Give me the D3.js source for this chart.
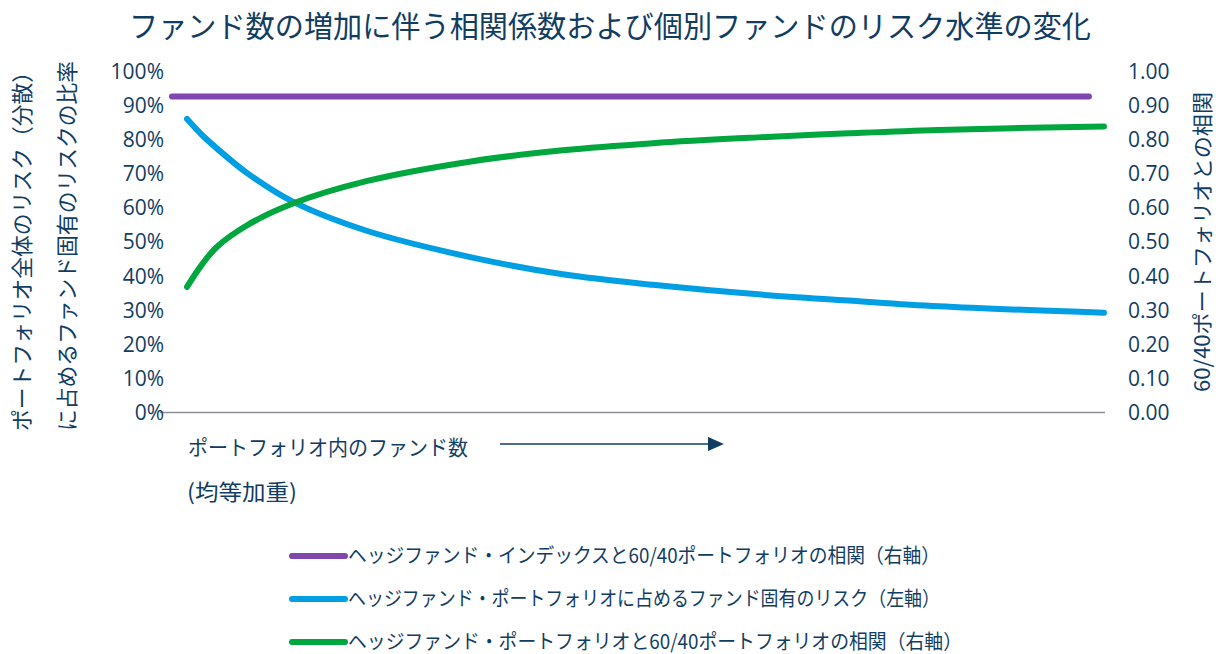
<!DOCTYPE html>
<html>
<head>
<meta charset="utf-8">
<script src="https://cdn.jsdelivr.net/npm/d3@7"></script>
<style>
  body { margin: 0; background: #fff; }
  text { fill: #123d63; }
  .jp { font-family: "Noto Sans CJK JP", sans-serif; }
  .num { font-family: "Open Sans", "Noto Sans CJK JP", sans-serif; }
</style>
</head>
<body>
<script>
// fund counts (x positions of the read points)
var funds = [1, 2, 3, 5, 8, 13, 20, 26, 32, 39, 45, 51, 62];
// fund-specific risk share, left axis
var idioRisk = [0.862, 0.815, 0.775, 0.703, 0.62, 0.533, 0.455, 0.406, 0.375, 0.347, 0.329, 0.312, 0.293];
// hedge fund portfolio vs 60/40 correlation, right axis
var pfCorr = [0.369, 0.435, 0.487, 0.55, 0.613, 0.68, 0.738, 0.77, 0.791, 0.808, 0.82, 0.83, 0.84];
// hedge fund index vs 60/40 correlation, right axis (flat)
var indexFunds = [0, 61];
var indexCorr = [0.928, 0.928];

var leftTicks = [0, 0.1, 0.2, 0.3, 0.4, 0.5, 0.6, 0.7, 0.8, 0.9, 1];
var rightTicks = [0, 0.1, 0.2, 0.3, 0.4, 0.5, 0.6, 0.7, 0.8, 0.9, 1];

var title = "ファンド数の増加に伴う相関係数および個別ファンドのリスク水準の変化";
var leftTitle = ["ポートフォリオ全体のリスク（分散）", "に占めるファンド固有のリスクの比率"];
var rightTitle = "60/40ポートフォリオとの相関";
var xTitle = ["ポートフォリオ内のファンド数", "(均等加重)"];
var legendNames = [
    "ヘッジファンド・インデックスと60/40ポートフォリオの相関（右軸）",
    "ヘッジファンド・ポートフォリオに占めるファンド固有のリスク（左軸）",
    "ヘッジファンド・ポートフォリオと60/40ポートフォリオの相関（右軸）"
];
var colors = ["#7f47ad", "#009fe3", "#00a63e"];

var W = 1220, H = 654;
var svg = d3.select("body").append("svg")
    .attr("width", W)
    .attr("height", H);

var x = d3.scaleLinear().domain([0, 62]).range([172, 1104]);
var yL = d3.scaleLinear().domain([0, 1]).range([412.5, 72]);
var yR = d3.scaleLinear().domain([0, 1]).range([412.5, 72]);

// title
svg.append("text")
    .attr("class", "jp")
    .attr("x", 129).attr("y", 37)
    .attr("font-size", 30)
    .attr("textLength", 962)
    .attr("lengthAdjust", "spacingAndGlyphs")
    .text(title);

// baseline
svg.append("line")
    .attr("x1", 160).attr("x2", 1105)
    .attr("y1", yL(0)).attr("y2", yL(0))
    .attr("stroke", "#8c8f94")
    .attr("stroke-width", 1.5);

// axes
var gl = svg.append("g")
    .attr("class", "num")
    .attr("transform", "translate(172,0)")
    .call(d3.axisLeft(yL).tickValues(leftTicks).tickFormat(d3.format(".0%")).tickSize(0).tickPadding(8));
var gr = svg.append("g")
    .attr("class", "num")
    .attr("transform", "translate(1105,0)")
    .call(d3.axisRight(yR).tickValues(rightTicks).tickFormat(d3.format(".2f")).tickSize(0).tickPadding(23));
[gl, gr].forEach(function (g) {
    g.select(".domain").remove();
    g.selectAll("text")
        .attr("font-size", 21)
        .attr("font-family", "'Open Sans', sans-serif")
        .style("fill", "#123d63");
});

// axis titles
leftTitle.forEach(function (t, i) {
    svg.append("text")
        .attr("class", "jp")
        .attr("transform", "translate(" + (22 + i * 45) + ",246) rotate(-90)")
        .attr("text-anchor", "middle")
        .attr("dy", "0.36em")
        .attr("font-size", 22)
        .attr("textLength", 370)
        .attr("lengthAdjust", "spacingAndGlyphs")
        .text(t);
});
svg.append("text")
    .attr("class", "jp")
    .attr("transform", "translate(1202,242) rotate(-90)")
    .attr("text-anchor", "middle")
    .attr("dy", "0.36em")
    .attr("font-size", 21)
    .attr("textLength", 300)
    .attr("lengthAdjust", "spacingAndGlyphs")
    .text(rightTitle);

// lines
var lineL = d3.line()
    .x(function (d) { return x(d[0]); })
    .y(function (d) { return yL(d[1]); })
    .curve(d3.curveCatmullRom.alpha(0.5));
var lineR = d3.line()
    .x(function (d) { return x(d[0]); })
    .y(function (d) { return yR(d[1]); })
    .curve(d3.curveCatmullRom.alpha(0.5));

var series = [
    { pts: d3.zip(indexFunds, indexCorr), line: lineR, color: colors[0] },
    { pts: d3.zip(funds, idioRisk), line: lineL, color: colors[1] },
    { pts: d3.zip(funds, pfCorr), line: lineR, color: colors[2] }
];
svg.selectAll("path.series")
    .data(series)
    .enter().append("path")
    .attr("class", "series")
    .attr("d", function (d) { return d.line(d.pts); })
    .attr("fill", "none")
    .attr("stroke", function (d) { return d.color; })
    .attr("stroke-width", 6)
    .attr("stroke-linecap", "round")
    .attr("stroke-linejoin", "round");

// x title with arrow
svg.append("text")
    .attr("class", "jp")
    .attr("x", 188).attr("y", 455)
    .attr("font-size", 21)
    .attr("textLength", 280)
    .attr("lengthAdjust", "spacingAndGlyphs")
    .text(xTitle[0]);
svg.append("text")
    .attr("class", "jp")
    .attr("x", 187).attr("y", 500)
    .attr("font-size", 22)
    .attr("textLength", 110)
    .attr("lengthAdjust", "spacingAndGlyphs")
    .text(xTitle[1]);
svg.append("line")
    .attr("x1", 500).attr("x2", 712)
    .attr("y1", 444).attr("y2", 444)
    .attr("stroke", "#123d63")
    .attr("stroke-width", 1.5);
svg.append("path")
    .attr("d", "M708,437 L724,444 L708,451 Z")
    .attr("fill", "#123d63");

// legend
var legend = svg.selectAll("g.legend")
    .data(legendNames)
    .enter().append("g")
    .attr("class", "legend")
    .attr("transform", function (d, i) { return "translate(292," + (556 + i * 43) + ")"; });
legend.append("line")
    .attr("x1", 0).attr("x2", 53)
    .attr("stroke", function (d, i) { return colors[i]; })
    .attr("stroke-width", 6)
    .attr("stroke-linecap", "round");
legend.append("text")
    .attr("class", "jp")
    .attr("x", 56)
    .attr("dy", "0.36em")
    .attr("font-size", 20)
    .attr("textLength", function (d, i) { return i == 2 ? 614 : 592; })
    .attr("lengthAdjust", "spacingAndGlyphs")
    .text(function (d) { return d; });
</script>
</body>
</html>
